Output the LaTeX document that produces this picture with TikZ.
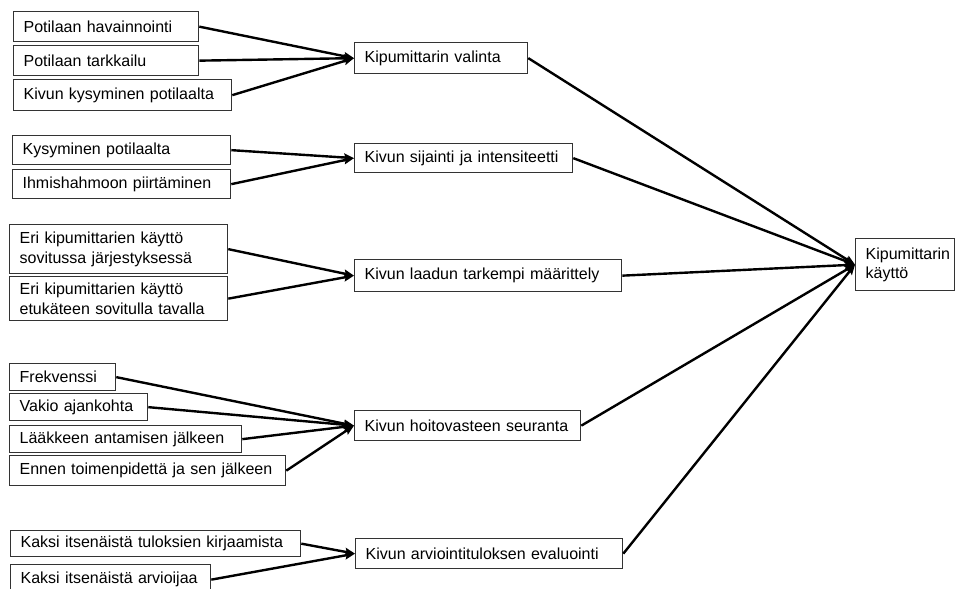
\documentclass[tikz,border=0pt]{standalone}
\usepackage{fontspec}
\setmainfont{Liberation Sans}
\usetikzlibrary{arrows.meta}

\tikzset{
  box/.style={draw=black!80, line width=1.3bp, inner xsep=10bp, inner ysep=0pt,
    align=left, anchor=north west, text=black,
    font=\fontsize{16bp}{19.5bp}\selectfont},
  link/.style={line width=2.4bp, black,
    -{Stealth[length=10bp,width=8bp,inset=1.5bp]}},
}

% \boxat{name}{x1}{y1}{x2}{y2}{text}: a box with its corners given in pixels
\newcommand\boxat[6]{%
  \pgfmathsetlengthmacro\bxw{(#4-#2)*1bp}%
  \pgfmathsetlengthmacro\bxh{(#5-#3)*1bp}%
  \pgfmathsetlengthmacro\bxt{(#4-#2-20)*1bp}%
  \node[box, minimum width=\bxw, minimum height=\bxh, text width=\bxt] (#1) at (#2,#3) {#6};%
}

\begin{document}
\begin{tikzpicture}[x=1bp, y=-1bp]
  \useasboundingbox (0,0) rectangle (955,589);

  % first column: methods
  \boxat{a1}{13}{11}{198}{41}{Potilaan havainnointi}
  \boxat{a2}{13}{45}{198}{75}{Potilaan tarkkailu}
  \boxat{a3}{13}{79}{231}{110}{Kivun kysyminen potilaalta}

  \boxat{b1}{12}{135}{230}{164}{Kysyminen potilaalta}
  \boxat{b2}{12}{169}{230}{198}{Ihmishahmoon piirtäminen}

  \boxat{c1}{9}{224}{227}{273}{Eri kipumittarien käyttö\\sovitussa järjestyksessä}
  \boxat{c2}{9}{276}{227}{320}{Eri kipumittarien käyttö\\etukäteen sovitulla tavalla}

  \boxat{d1}{9}{363}{115}{390}{Frekvenssi}
  \boxat{d2}{9}{393}{147}{420}{Vakio ajankohta}
  \boxat{d3}{9}{425}{241}{452}{Lääkkeen antamisen jälkeen}
  \boxat{d4}{9}{455}{285}{485}{Ennen toimenpidettä ja sen jälkeen}

  \boxat{e1}{10}{530}{300}{556}{Kaksi itsenäistä tuloksien kirjaamista}
  \boxat{e2}{10}{564}{210}{594}{Kaksi itsenäistä arvioijaa}

  % second column: purposes
  \boxat{m1}{354}{42}{527}{73}{Kipumittarin valinta}
  \boxat{m2}{354}{143}{572}{172}{Kivun sijainti ja intensiteetti}
  \boxat{m3}{354}{259}{621}{291}{Kivun laadun tarkempi määrittely}
  \boxat{m4}{354}{410}{580}{440}{Kivun hoitovasteen seuranta}
  \boxat{m5}{355}{538}{622}{568}{Kivun arviointituloksen evaluointi}

  % result
  \boxat{r}{855}{238}{954}{290}{Kipumittarin\\käyttö}

  % connectors
  \foreach \s in {a1,a2,a3} \draw[link] (\s.east) -- (m1.west);
  \foreach \s in {b1,b2} \draw[link] (\s.east) -- (m2.west);
  \foreach \s in {c1,c2} \draw[link] (\s.east) -- (m3.west);
  \foreach \s in {d1,d2,d3,d4} \draw[link] (\s.east) -- (m4.west);
  \foreach \s in {e1,e2} \draw[link] (\s.east) -- (m5.west);
  \foreach \s in {m1,m2,m3,m4,m5} \draw[link] (\s.east) -- (r.west);
\end{tikzpicture}
\end{document}
